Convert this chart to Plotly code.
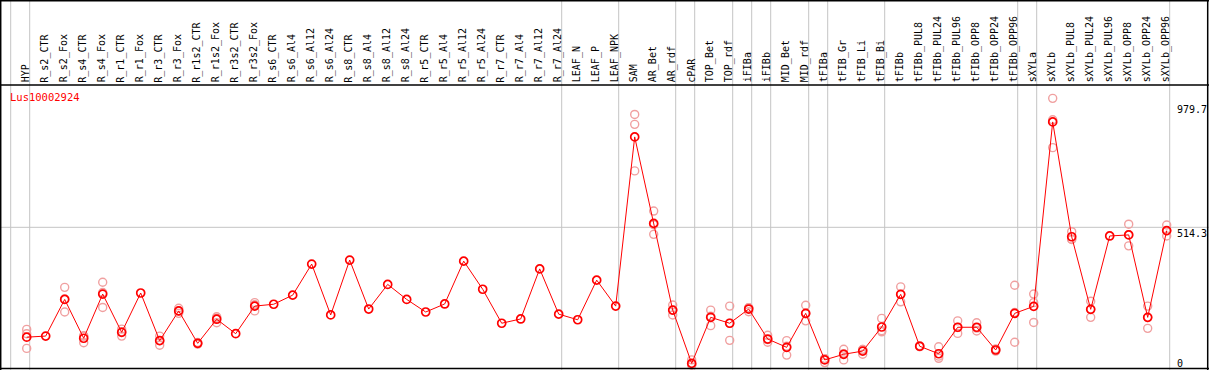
import plotly.graph_objects as go

title = "Lus10002924"
samples = ["HYP", "R_s2_CTR", "R_s2_Fox", "R_s4_CTR", "R_s4_Fox", "R_r1_CTR", "R_r1_Fox",
           "R_r3_CTR", "R_r3_Fox", "R_r1s2_CTR", "R_r1s2_Fox", "R_r3s2_CTR", "R_r3s2_Fox",
           "R_s6_CTR", "R_s6_Al4", "R_s6_Al12", "R_s6_Al24", "R_s8_CTR", "R_s8_Al4", "R_s8_Al12",
           "R_s8_Al24", "R_r5_CTR", "R_r5_Al4", "R_r5_Al12", "R_r5_Al24", "R_r7_CTR", "R_r7_Al4",
           "R_r7_Al12", "R_r7_Al24", "LEAF_N", "LEAF_P", "LEAF_NPK", "SAM", "AR_Bet", "AR_rdf",
           "cPAR", "TOP_Bet", "TOP_rdf", "iFIBa", "iFIBb", "MID_Bet", "MID_rdf", "tFIBa",
           "tFIB_Gr", "tFIB_Li", "tFIB_Bi", "tFIBb", "tFIBb_PUL8", "tFIBb_PUL24", "tFIBb_PUL96",
           "tFIBb_OPP8", "tFIBb_OPP24", "tFIBb_OPP96", "sXYLa", "sXYLb", "sXYLb_PUL8",
           "sXYLb_PUL24", "sXYLb_PUL96", "sXYLb_OPP8", "sXYLb_OPP24", "sXYLb_OPP96"]

means = [104, 108, 245, 100, 265, 122, 269, 91, 202, 81, 171, 117, 220,
         227, 261, 377, 187, 392, 209, 301, 245, 198, 228, 388, 283, 156, 172, 359, 190,
         169, 317, 220, 852, 529, 205, 6, 178, 156, 209, 97, 66, 193, 19, 40, 52, 142,
         264, 70, 42, 141, 141, 56, 193, 219, 908, 479, 208, 482, 486, 178, 502]

replicates = [[133, 117, 62], [], [290, 198, 247], [108, 83, 109], [309, 215, 271],
              [134, 108, 124], [], [108, 74, 91], [212, 193, 201], [84, 78, 81],
              [180, 158, 175], [], [233, 202, 225],
              [], [], [], [], [], [], [], [], [], [], [], [], [], [], [], [], [], [], [],
              [936, 899, 725], [575, 488, 524], [224, 187, 205], [19, 0, 0],
              [205, 147, 182], [220, 92, 156], [199, 214, 214], [111, 85, 95],
              [91, 37, 70], [223, 165, 191], [9, 24, 24], [59, 19, 42], [40, 58, 58],
              [174, 124, 128], [292, 236, 264], [72, 68, 70], [68, 25, 33],
              [165, 118, 140], [158, 127, 138], [60, 52, 56], [298, 85, 196],
              [265, 159, 233], [996, 812, 916], [498, 470, 469], [238, 178, 208],
              [], [526, 445, 487], [220, 137, 177], [523, 482, 501]]

group_sizes = [1, 28, 3, 3, 1, 2, 1, 1, 2, 1, 3, 7, 1, 7]
axis_values = [979.7, 514.3, 0]
axis_labels = ["979.7", "514.3", "0"]

W, H = 1209, 370
FONT = "DejaVu Sans Mono"
# pixel geometry
X0, DX = 26.7, 19.0           # px of first sample, px per sample
Y0, SY = 365.0, 0.2677        # px of value 0, px per unit
x_range = [-X0 / DX, (W - X0) / DX]
y_range = [(Y0 - H) / SY, Y0 / SY]
HEADER = 85

def py(px):
    return (H - px) / H

def px_x(px):
    return px / W

xs = list(range(len(samples)))
rx, ry = [], []
for i, reps in enumerate(replicates):
    for v in reps:
        rx.append(i)
        ry.append(v)

fig = go.Figure()
fig.add_trace(go.Scatter(
    x=rx, y=ry, mode="markers", hoverinfo="skip",
    marker=dict(symbol="circle-open", size=8, color="#f0a0a0", line=dict(width=1.4, color="#f0a0a0")),
))
fig.add_trace(go.Scatter(
    x=xs, y=means, mode="lines+markers",
    line=dict(color="#ff0000", width=1),
    marker=dict(symbol="circle-open", size=8, color="#ff0000", line=dict(width=1.7, color="#ff0000")),
))

shapes = []
gray = "#c4c4c4"
# group separators
b = -1
bounds = [b]
for s in group_sizes:
    b += s
    bounds.append(b)
for b in bounds:
    xb = b + 3.0 / DX
    shapes.append(dict(type="line", xref="x", yref="paper", x0=xb, x1=xb, y0=0, y1=1,
                       line=dict(color=gray, width=1), layer="below"))
# horizontal line at middle value
shapes.append(dict(type="line", xref="paper", yref="y", x0=0, x1=1, y0=axis_values[1], y1=axis_values[1],
                   line=dict(color=gray, width=1), layer="below"))
# frame
blk = dict(color="black", width=1.5)
shapes.append(dict(type="line", xref="paper", yref="paper", x0=0, x1=1, y0=py(0.7), y1=py(0.7), line=blk))
shapes.append(dict(type="line", xref="paper", yref="paper", x0=0, x1=1, y0=py(368.5), y1=py(368.5), line=blk))
shapes.append(dict(type="line", xref="paper", yref="paper", x0=px_x(0.7), x1=px_x(0.7), y0=0, y1=1, line=blk))
shapes.append(dict(type="line", xref="paper", yref="paper", x0=px_x(1207.7), x1=px_x(1207.7), y0=0, y1=1, line=blk))
shapes.append(dict(type="line", xref="paper", yref="paper", x0=0, x1=1, y0=py(HEADER), y1=py(HEADER),
                   line=dict(color="black", width=1.5)))

annotations = []
for i, name in enumerate(samples):
    annotations.append(dict(x=i, y=py(HEADER - 1.5), xref="x", yref="paper", text=name,
                            textangle=-90, showarrow=False, xanchor="center", yanchor="bottom",
                            xshift=-1, borderpad=0,
                            font=dict(family=FONT, size=10, color="black")))
annotations.append(dict(x=px_x(8.5), y=py(97), xref="paper", yref="paper", text=title,
                        showarrow=False, xanchor="left", yanchor="middle", borderpad=0,
                        font=dict(family=FONT, size=10.5, color="#ff0000")))
for v, lab in zip(axis_values, axis_labels):
    top_px = Y0 - SY * v
    top_px = min(top_px, 357)
    annotations.append(dict(x=px_x(1175.5), y=py(top_px), xref="paper", yref="paper", text=lab,
                            showarrow=False, xanchor="left", yanchor="top", borderpad=0,
                            font=dict(family=FONT, size=10, color="black")))

fig.update_layout(
    width=W, height=H, margin=dict(l=0, r=0, t=0, b=0),
    paper_bgcolor="white", plot_bgcolor="white", showlegend=False,
    xaxis=dict(range=x_range, visible=False, fixedrange=True),
    yaxis=dict(range=y_range, visible=False, fixedrange=True),
    shapes=shapes, annotations=annotations,
)
fig.write_html("out.html", config={"displayModeBar": False},
               post_script="document.body.style.margin='0';document.body.style.overflow='hidden';")
